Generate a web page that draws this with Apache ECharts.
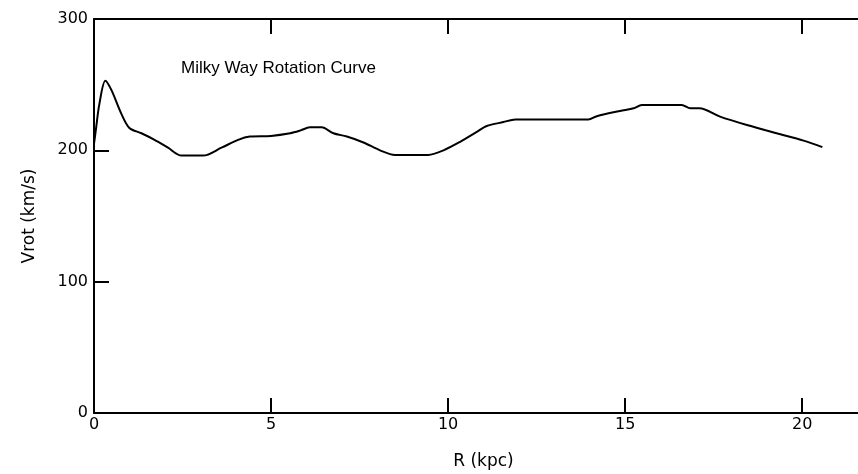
<!DOCTYPE html>
<html>
<head>
<meta charset="utf-8">
<script src="https://cdn.jsdelivr.net/npm/echarts@6/dist/echarts.min.js"></script>
<style>html,body{margin:0;padding:0;background:#fff;overflow:hidden;width:858px;height:474px}#c{width:880px;height:474px}</style>
</head>
<body>
<div id="c"></div>
<script>
const radius = [0, 0.05, 0.15, 0.32, 0.49, 0.77, 1.0, 1.34, 1.71, 2.09, 2.47, 3.08, 3.6, 4.07, 4.4, 5.0, 5.54, 5.82, 6.1, 6.43, 6.76, 7.14, 7.61, 8.08, 8.5, 9.44, 9.87, 10.34, 10.81, 11.09, 11.56, 11.9, 13.96, 14.2, 14.86, 15.24, 15.47, 16.6, 16.84, 17.1, 17.68, 18.44, 19.28, 20.04, 20.57];
const vrot = [205, 215, 235, 253, 246, 228, 217, 213, 208, 202, 196, 196, 202, 208, 210.5, 211, 213, 215, 217.5, 217.5, 213, 210.5, 206, 200, 196.5, 196.5, 200, 206.5, 214, 218.5, 221.5, 223.5, 223.5, 226, 230, 232, 234.5, 234.5, 232, 232, 225.7, 219.3, 213, 207.4, 202.4];
const xTicks = [0, 5, 10, 15, 20];
const yTicks = [0, 100, 200, 300];
const titleText = 'Milky Way Rotation Curve';
const xName = 'R (kpc)';
const yName = 'Vrot (km/s)';

const font = 'DejaVu Sans, Liberation Sans, sans-serif';
const chart = echarts.init(document.getElementById('c'), null, {renderer: 'canvas'});
const lineStyle = {color: '#000', width: 2};
const tickStyle = {show: true, inside: true, length: 15, lineStyle: {color: '#000', width: 2}};
const baseX = {
  type: 'value', min: 0, max: 22, interval: 5,
  axisLine: {show: true, onZero: false, lineStyle: lineStyle},
  axisTick: tickStyle,
  splitLine: {show: false}
};
const baseY = {
  type: 'value', min: 0, max: 300, interval: 100,
  axisLine: {show: true, onZero: false, lineStyle: lineStyle},
  axisTick: tickStyle,
  splitLine: {show: false}
};
chart.setOption({
  animation: false,
  backgroundColor: '#fff',
  title: {
    text: titleText, left: 176, top: 55,
    textStyle: {fontSize: 17, fontWeight: 'normal', color: '#000', fontFamily: 'Liberation Sans, Arial, sans-serif'}
  },
  grid: {left: 94, top: 19, right: 7, bottom: 61, containLabel: false, outerBoundsMode: 'none'},
  xAxis: [
    Object.assign({}, baseX, {
      position: 'bottom',
      name: xName, nameLocation: 'middle', nameGap: 40,
      nameTextStyle: {fontSize: 17, color: '#000', fontFamily: font},
      axisLabel: {
        color: '#000', fontSize: 16, fontFamily: font, margin: 4,
        showMaxLabel: false,
        formatter: v => xTicks.indexOf(v) >= 0 ? String(v) : ''
      }
    }),
    Object.assign({}, baseX, {position: 'top', axisLabel: {show: false}})
  ],
  yAxis: [
    Object.assign({}, baseY, {
      position: 'left',
      name: yName, nameLocation: 'middle', nameGap: 56,
      nameTextStyle: {fontSize: 17, color: '#000', fontFamily: font},
      axisLabel: {
        color: '#000', fontSize: 16, fontFamily: font, margin: 6,
        formatter: v => yTicks.indexOf(v) >= 0 ? String(v) : ''
      }
    }),
    Object.assign({}, baseY, {position: 'right', axisLabel: {show: false}})
  ],
  series: [{
    type: 'line',
    xAxisIndex: 0, yAxisIndex: 0,
    data: radius.map((r, i) => [r, vrot[i]]),
    smooth: 0.3,
    symbol: 'none',
    lineStyle: {color: '#000', width: 2}
  }]
});
</script>
</body>
</html>
